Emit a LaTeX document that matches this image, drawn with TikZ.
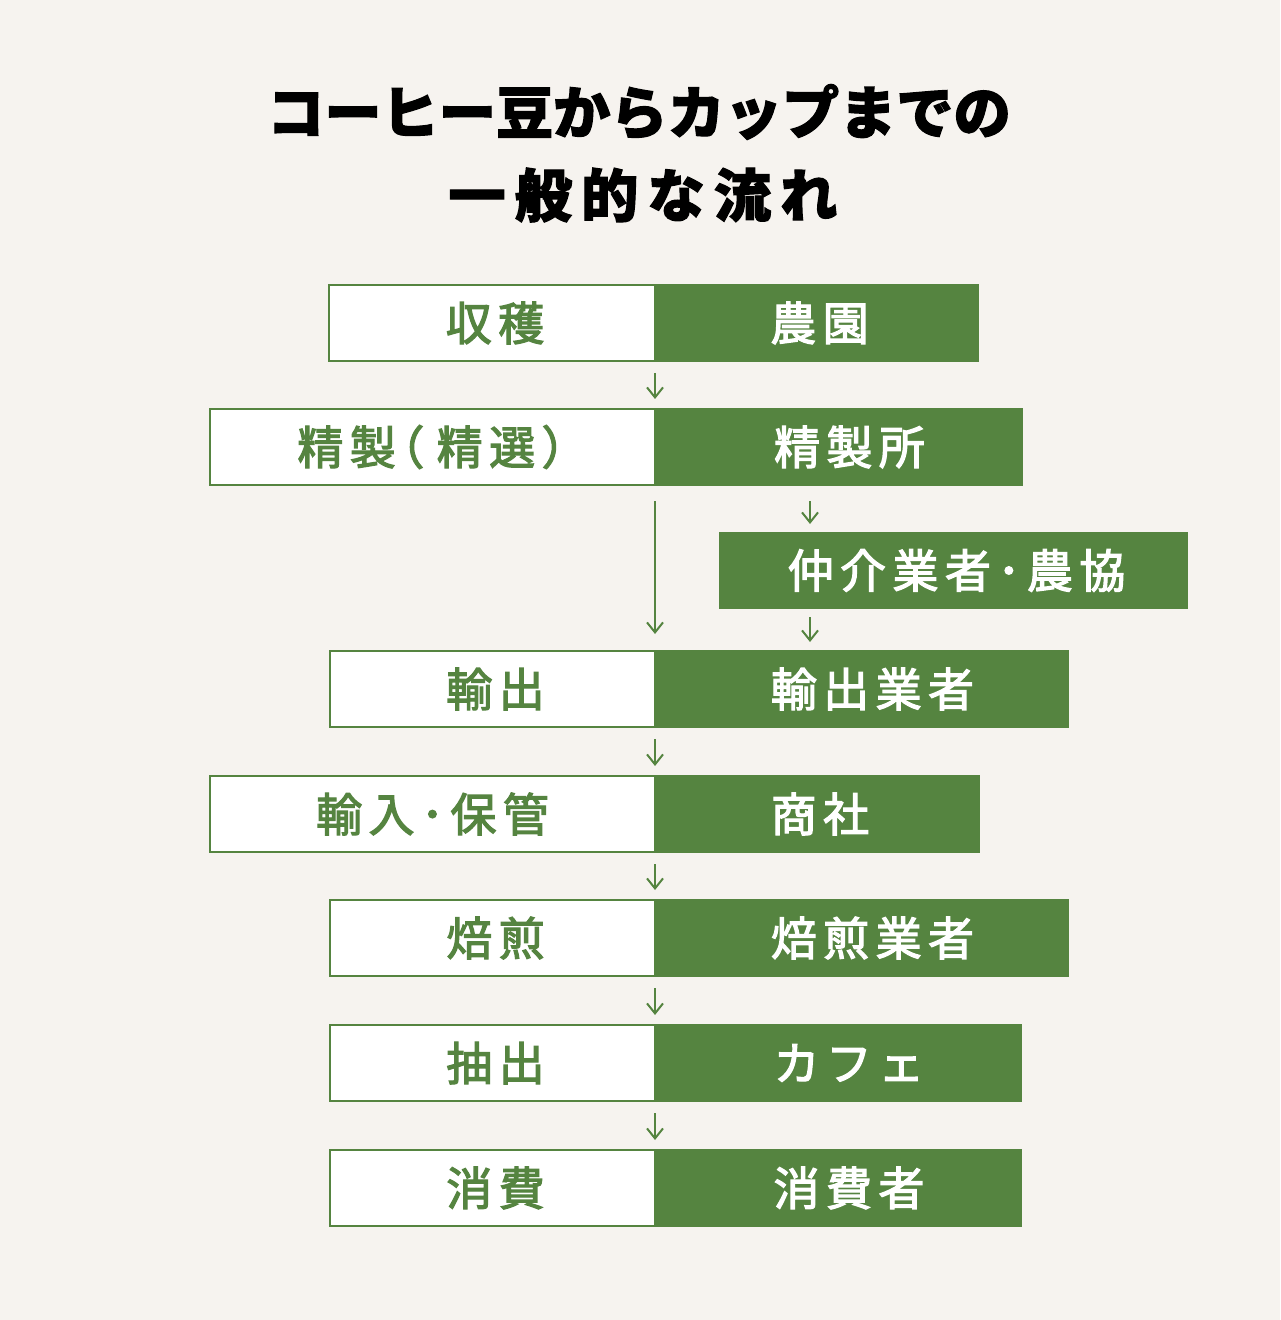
\documentclass[tikz,border=0pt]{standalone}
\usepackage{fontspec}
\setmainfont{Noto Sans CJK JP}
\newfontfamily\jpfont{Noto Sans CJK JP}[LetterSpace=14, FakeBold=2.6]
\newfontfamily\titlefont{Noto Sans CJK JP}[BoldFeatures={FakeBold=2}]
\usetikzlibrary{arrows.meta, calc}
\definecolor{leaf}{RGB}{85,132,64}
\definecolor{paper}{RGB}{246,243,239}

\begin{document}
\begin{tikzpicture}[%
    x=0.5pt, y=-0.5pt,                          % one unit = one pixel of the layout
    >={Straight Barb[length=5pt,width=8pt]},
    ]

\tikzset{
  base/.style={anchor=north west, inner sep=0pt, outer sep=0pt, minimum height=38pt,
               line width=1pt, font=\jpfont\fontsize{23}{26}\selectfont},
  task/.style={base, draw=leaf, fill=white, text=leaf},
  agent/.style={base, draw=leaf, fill=leaf, text=white},
  pushright/.style={execute at begin node={\hspace*{11pt}}},
  flow/.style={->, draw=leaf, line width=1pt, shorten <=6pt, shorten >=5pt},
  heading/.style={font=\titlefont\bfseries\fontsize{28.6}{34}\selectfont}
  };

\fill[paper] (0,0) rectangle (1280,1320);
\useasboundingbox (0,0) rectangle (1280,1320);

% Title
\node[heading] (title1) at (639,112) {コーヒー豆からカップまでの};
\node[heading] (title2) at (643,195) {\addfontfeatures{LetterSpace=16}一般的な流れ};

% Steps (left) and who does them (right)
\node[task, minimum width=163pt] (harvest) at (329,285) {\hspace*{3pt}収穫};
\node[agent, minimum width=161.5pt] (farm) at (655,285) {\hspace*{3pt}農園};

\node[task, minimum width=222.5pt] (refine) at (210,409) {\hspace*{10pt}精製\kern-0.38em（\kern0.27em精選）};
\node[agent, pushright, minimum width=183.5pt] (refinery) at (655,409) {精製所};

\node[agent, minimum width=233.5pt, minimum height=37.5pt] (broker) at (720,533) {\hspace*{3pt}仲介業者･農協};

\node[task, minimum width=162.5pt] (export) at (330,651) {\hspace*{3pt}輸出};
\node[agent, pushright, minimum width=206.5pt] (exporter) at (655,651) {輸出業者};

\node[task, minimum width=222.5pt] (import) at (210,776) {輸入･保管};
\node[agent, minimum width=162pt] (trader) at (655,776) {\hspace*{3pt}商社};

\node[task, minimum width=162.5pt] (roast) at (330,900) {\hspace*{3pt}焙煎};
\node[agent, pushright, minimum width=206.5pt] (roaster) at (655,900) {焙煎業者};

\node[task, minimum width=162.5pt] (brew) at (330,1025) {\hspace*{3pt}抽出};
\node[agent, pushright, minimum width=183pt] (cafe) at (655,1025) {カフェ};

\node[task, minimum width=162.5pt] (consume) at (330,1150) {\hspace*{3pt}消費};
\node[agent, pushright, minimum width=183pt] (consumer) at (655,1150) {消費者};

% Flow
\coordinate (split) at (810,0);

\draw[flow] (harvest.south east) -- (refine.north east);
\draw[flow, shorten <=8pt, shorten >=8.5pt] (refine.south east) -- (export.north east);
\draw[flow, shorten <=8pt, shorten >=4.5pt] (refinery.south -| split) -- (broker.north -| split);
\draw[flow, shorten <=4.5pt, shorten >=4.5pt] (broker.south -| split) -- (exporter.north -| split);
\draw[flow] (export.south east)  -- (import.north east);
\draw[flow] (import.south east)  -- (roast.north east);
\draw[flow] (roast.south east)   -- (brew.north east);
\draw[flow] (brew.south east)    -- (consume.north east);

\end{tikzpicture}
\end{document}
